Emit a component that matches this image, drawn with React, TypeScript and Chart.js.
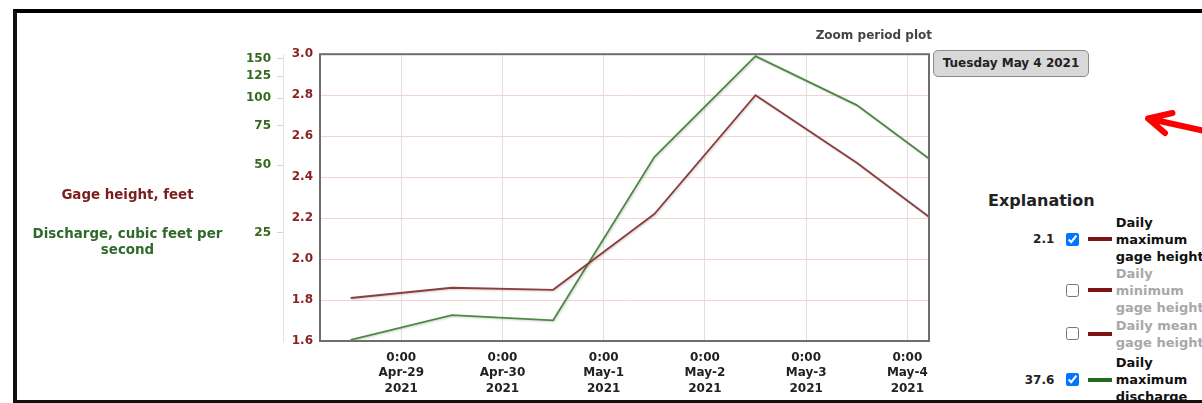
import React, { useEffect, useRef } from 'react';
import { Chart, registerables } from 'chart.js';

Chart.register(...registerables);

// ---- data ----
const tickDays = ['Apr-29', 'Apr-30', 'May-1', 'May-2', 'May-3', 'May-4'];
const tickTime = '0:00';
const tickYear = '2021';
const firstTickDate = '2021-04-29';
const valueDates = ['2021-04-28', '2021-04-29', '2021-04-30', '2021-05-01', '2021-05-02', '2021-05-03', '2021-05-04'];
const gageHeightMax = [1.81, 1.86, 1.85, 2.22, 2.8, 2.47, 2.1];
const dischargeMax = [8.3, 10.7, 10.15, 54.5, 154, 93, 43];
const gageTicks = [1.6, 1.8, 2.0, 2.2, 2.4, 2.6, 2.8, 3.0];
const dischargeTicks = [25, 50, 75, 100, 125, 150];
const viewStartDays = -0.803; // days from first tick (Apr-28 ~04:45)
const viewEndDays = 5.214; // (May-4 ~05:08)
const dischargeAxisMin = 8.2;
const dischargeAxisMax = 157;

const legendEntries = [
  { value: '2.1', checked: true, color: '#7d1414', label: 'Daily maximum gage height', enabled: true },
  { value: '', checked: false, color: '#7d1414', label: 'Daily minimum gage height', enabled: false },
  { value: '', checked: false, color: '#7d1414', label: 'Daily mean gage height', enabled: false },
  { value: '37.6', checked: true, color: '#1f6b1f', label: 'Daily maximum discharge', enabled: true },
];

const FONT = "'DejaVu Sans', Verdana, sans-serif";
const DAY_MS = 86400000;
const dayOffset = (d: string) => (Date.parse(d) - Date.parse(firstTickDate)) / DAY_MS + 0.5;

export default function App() {
  const canvasRef = useRef<HTMLCanvasElement | null>(null);

  useEffect(() => {
    if (!canvasRef.current) return;
    const framePlugin = {
      id: 'frameShadow',
      beforeDatasetsDraw(chart: any) {
        const ctx = chart.ctx;
        ctx.save();
        ctx.shadowColor = 'rgba(0,0,0,0.18)';
        ctx.shadowOffsetX = 1;
        ctx.shadowOffsetY = 1;
        ctx.shadowBlur = 2;
      },
      afterDatasetsDraw(chart: any) {
        const ctx = chart.ctx;
        ctx.restore();
        const a = chart.chartArea;
        ctx.save();
        ctx.strokeStyle = '#6e6e6e';
        ctx.lineWidth = 2;
        ctx.strokeRect(a.left, a.top, a.right - a.left, a.bottom - a.top);
        ctx.restore();
      },
    };

    const chart = new Chart(canvasRef.current, {
      type: 'line',
      data: {
        datasets: [
          {
            label: 'Daily maximum gage height',
            data: valueDates.map((d, i) => ({ x: dayOffset(d), y: gageHeightMax[i] })),
            yAxisID: 'yG',
            borderColor: '#8c3d3d',
            borderWidth: 1.8,
            pointRadius: 0,
            tension: 0,
          },
          {
            label: 'Daily maximum discharge',
            data: valueDates.map((d, i) => ({ x: dayOffset(d), y: dischargeMax[i] })),
            yAxisID: 'yQ',
            borderColor: '#4e8944',
            borderWidth: 1.8,
            pointRadius: 0,
            tension: 0,
          },
        ],
      },
      options: {
        animation: false,
        responsive: false,
        layout: { padding: { left: 0, top: 12, right: 31, bottom: 0 } },
        plugins: { legend: { display: false }, tooltip: { enabled: false }, title: { display: false } },
        scales: {
          x: {
            type: 'linear',
            min: viewStartDays,
            max: viewEndDays,
            afterBuildTicks: (s: any) => {
              s.ticks = tickDays.map((_, i) => ({ value: i }));
            },
            afterFit: (s: any) => {
              s.height = 62;
            },
            ticks: {
              autoSkip: false,
              maxRotation: 0,
              padding: 9.5,
              color: '#222',
              font: { family: FONT, size: 12, weight: 'bold', lineHeight: 1.27 },
              callback: (_v: any, i: number) => [tickTime, tickDays[i], tickYear],
            },
            grid: { color: '#e0e0e0', drawTicks: false },
            border: { display: false },
          },
          yG: {
            type: 'linear',
            position: 'left',
            weight: 0,
            min: gageTicks[0],
            max: gageTicks[gageTicks.length - 1],
            afterBuildTicks: (s: any) => {
              s.ticks = gageTicks.map((v) => ({ value: v }));
            },
            afterFit: (s: any) => {
              s.width = 37;
            },
            ticks: {
              padding: 7,
              color: '#8b1f1f',
              font: { family: FONT, size: 12, weight: 'bold' },
              callback: (v: any) => Number(v).toFixed(1),
            },
            grid: { color: '#f0d4d4', drawTicks: false },
            border: { display: false },
          },
          yQ: {
            type: 'logarithmic',
            position: 'left',
            weight: 1,
            min: dischargeAxisMin,
            max: dischargeAxisMax,
            afterBuildTicks: (s: any) => {
              s.ticks = dischargeTicks.map((v) => ({ value: v }));
            },
            afterFit: (s: any) => {
              s.width = 83;
            },
            ticks: {
              padding: 6,
              color: '#35691f',
              font: { family: FONT, size: 12, weight: 'bold' },
              callback: (v: any) => String(v),
            },
            grid: { drawOnChartArea: false, color: '#d6d6d6', tickLength: 6, drawTicks: true },
            border: { display: true, color: '#e2e2e2' },
          },
        },
      } as any,
      plugins: [framePlugin],
    });
    return () => chart.destroy();
  }, []);

  const entryTops = [213.8, 264.8, 316.5, 354.2];

  return (
    <div
      style={{
        position: 'fixed',
        left: 0,
        top: 0,
        width: 1202,
        height: 403,
        overflow: 'hidden',
        background: '#fff',
        fontFamily: FONT,
      }}
    >
      <div
        style={{
          position: 'absolute',
          left: 13,
          top: 9,
          width: 1250,
          height: 394,
          boxSizing: 'border-box',
          borderTop: '4px solid #000',
          borderLeft: '4px solid #111',
          borderBottom: '3px solid #111',
        }}
      />
      <div style={{ position: 'absolute', left: 200, top: 40, width: 760, height: 363 }}>
        <canvas ref={canvasRef} width={760} height={363} style={{ width: 760, height: 363, display: 'block' }} />
      </div>

      <div
        style={{
          position: 'absolute',
          left: 27.5,
          width: 200,
          top: 186.5,
          textAlign: 'center',
          fontWeight: 'bold',
          fontSize: 13.4,
          lineHeight: '16px',
          color: '#7b1d1d',
        }}
      >
        Gage height, feet
      </div>
      <div
        style={{
          position: 'absolute',
          left: 27.5,
          width: 200,
          top: 225.5,
          textAlign: 'center',
          fontWeight: 'bold',
          fontSize: 13.4,
          lineHeight: '16px',
          color: '#2f6a2a',
        }}
      >
        Discharge, cubic feet per
        <br />
        second
      </div>

      <div
        style={{
          position: 'absolute',
          left: 700,
          width: 232,
          top: 27,
          textAlign: 'right',
          fontWeight: 'bold',
          fontSize: 12,
          lineHeight: '16px',
          color: '#444',
        }}
      >
        Zoom period plot
      </div>

      <div
        style={{
          position: 'absolute',
          left: 933,
          top: 50,
          width: 156,
          height: 27,
          boxSizing: 'border-box',
          border: '1px solid #8a8a8a',
          borderRadius: 5,
          background: '#d8d8d8',
          textAlign: 'center',
          fontWeight: 'bold',
          fontSize: 12,
          lineHeight: '25px',
          color: '#222',
        }}
      >
        Tuesday May 4 2021
      </div>

      <div
        style={{
          position: 'absolute',
          left: 988,
          top: 191,
          fontWeight: 'bold',
          fontSize: 16,
          lineHeight: '20px',
          color: '#222',
        }}
      >
        Explanation
      </div>

      {legendEntries.map((e, i) => (
        <div
          key={i}
          style={{
            position: 'absolute',
            left: 1000.3,
            top: entryTops[i],
            display: 'flex',
            alignItems: 'center',
            width: 320,
          }}
        >
          <span style={{ width: 54, textAlign: 'right', fontWeight: 'bold', fontSize: 12, color: '#222' }}>{e.value}</span>
          <input
            type="checkbox"
            defaultChecked={e.checked}
            style={{ margin: 0, marginLeft: 11.7, width: 13, height: 13 }}
          />
          <span style={{ marginLeft: 8.7, width: 24, height: 4, background: e.color, display: 'inline-block' }} />
          <span
            style={{
              marginLeft: 4,
              width: 100,
              fontWeight: 'bold',
              fontSize: 13,
              lineHeight: '17px',
              color: e.enabled ? '#111' : '#a8a8a8',
            }}
          >
            {e.label}
          </span>
        </div>
      ))}

      <svg
        width={1202}
        height={403}
        style={{ position: 'absolute', left: 0, top: 0, pointerEvents: 'none' }}
      >
        <path
          d="M1215 133.3 L1148 118.5 M1172.5 113 L1148 118.5 L1165 133"
          stroke="#ff0000"
          strokeWidth={6}
          strokeLinecap="round"
          strokeLinejoin="round"
          fill="none"
        />
      </svg>
    </div>
  );
}
